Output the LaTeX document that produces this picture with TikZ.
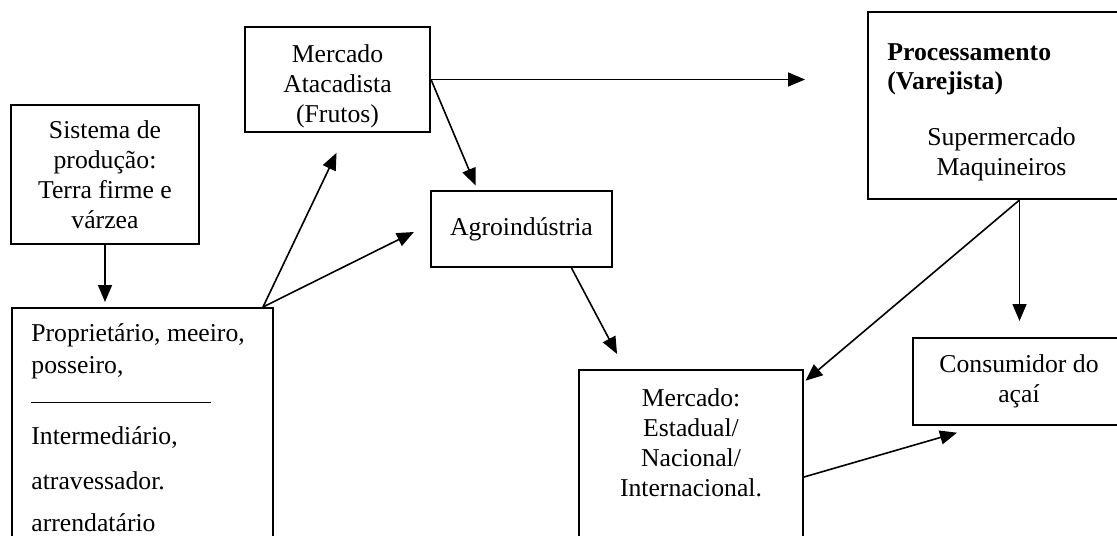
\documentclass[tikz,border=0pt]{standalone}
\usepackage{fontspec}
\setmainfont{Liberation Serif}
\usetikzlibrary{positioning,arrows.meta}

\tikzset{
  caixa/.style={draw, line width=1pt, inner sep=0pt, align=center},
  texto/.style={inner sep=0pt},
  seta/.style={-{Triangle[length=8.5pt,width=7pt]}, line width=0.8pt},
}

\begin{document}
\begin{tikzpicture}[x=0.5pt, y=-0.5pt, font=\fontsize{12.85}{15}\selectfont]
\useasboundingbox (0,0) rectangle (1117,535);
\clip (0,0) rectangle (1117,535);

% caixas
\node[caixa, minimum width=94pt, minimum height=69.5pt] (sis) at (105,174.5) {Sistema de\\produção:\\Terra firme e\\várzea};
\node[caixa, minimum width=130.5pt, minimum height=126pt] (prop) at (142.5,434) {};
\node[caixa, minimum width=92.5pt, minimum height=52.5pt] (atac) at (337.5,79.5) {};
\node[caixa, minimum width=90.5pt, minimum height=38pt] (agro) at (521.5,229) {Agroindústria};
\node[caixa, minimum width=133.5pt, minimum height=93.5pt] (proc) at (1001.5,105.5) {};
\node[caixa, minimum width=106pt, minimum height=43.5pt] (cons) at (1019,381.5) {Consumidor do\\açaí};
\node[caixa, minimum width=112pt, minimum height=100pt] (merc) at (691,470) {};

% textos
\node[texto, align=center] (atacT) at ([yshift=-3.5pt]atac.center) {Mercado\\Atacadista\\(Frutos)};
\node[texto, anchor=north west, align=left] (propT) at ([xshift=10pt,yshift=-8pt]prop.north west)
  {Proprietário, meeiro,\\[1pt]posseiro,\\\rule{90pt}{0.5pt}\\[5.5pt]Intermediário,\\[7.5pt]atravessador.\\[6pt]arrendatário};
\node[texto, anchor=north west, align=left, font=\fontsize{12.85}{14.5}\selectfont\bfseries] (procT) at ([xshift=10pt,yshift=-16pt]proc.north west)
  {Processamento\\(Varejista)};
\node[texto, align=center] (procS) at ([yshift=-24.5pt]proc.center) {Supermercado\\Maquineiros};
\node[texto, anchor=north, align=center] (mercT) at ([yshift=-9.5pt]merc.north)
  {Mercado:\\Estadual/\\Nacional/\\Internacional.};

% setas
\coordinate (pn) at ([xshift=-5.5pt]prop.north east);
\coordinate (pq) at ([xshift=9pt]proc.south);
\draw[seta, shorten >=2.5pt] (sis.south) -- (sis.south |- prop.north);
\draw[seta, shorten >=11pt] (pn) -- ([xshift=4.25pt]atac.south);
\draw[seta, shorten >=9pt] (pn) -- ([yshift=2.5pt]agro.west);
\draw[seta, shorten >=31pt] (atac.east) -- (atac.east -| proc.west);
\draw[seta, shorten >=2.5pt] (atac.east) -- ([xshift=-22pt]agro.north);
\draw[seta, shorten >=8.5pt] ([xshift=25pt]agro.south) -- ([xshift=-33pt]merc.north);
\draw[seta, shorten >=1pt] (pq) -- ([yshift=-6.5pt]merc.north east);
\draw[seta, shorten >=8pt] (pq) -- (pq |- cons.north);
\draw[seta, shorten >=12pt] ([yshift=-54pt]merc.north east) -- ([xshift=34pt]cons.south west);
\end{tikzpicture}
\end{document}
